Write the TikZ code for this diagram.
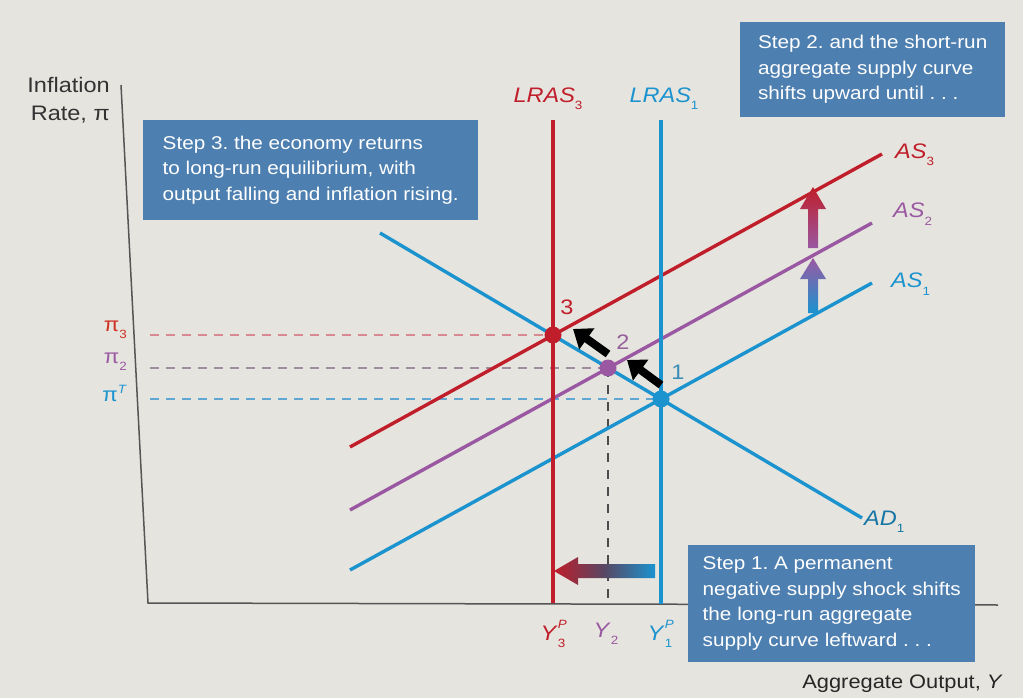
\documentclass[tikz,border=0pt]{standalone}
\usepackage{fontspec}
\setmainfont{Liberation Sans}[FakeStretch=1.12]
\usetikzlibrary{arrows.meta}
\definecolor{bgc}{HTML}{E6E4DE}
\definecolor{cblue}{HTML}{1B93CF}
\definecolor{cred}{HTML}{BF1E2A}
\definecolor{cpurple}{HTML}{9A58A2}
\definecolor{boxc}{HTML}{4D7FB0}
\definecolor{dred}{HTML}{D98A90}
\definecolor{dpur}{HTML}{A08C9E}
\definecolor{dblue}{HTML}{62A6D2}
\definecolor{axc}{HTML}{555555}
\newcommand{\fsz}[1]{\fontsize{#1}{#1}\selectfont}
\newcommand{\supsubY}[2]{\textit{Y}\rlap{\raisebox{0.55em}{\fsz{12}\textit{#1}}}\raisebox{-0.35em}{\fsz{12}#2}}
\newcommand{\itsub}[2]{\textit{#1}\raisebox{-0.35em}{\fsz{12}#2}}
\frenchspacing
\begin{document}
\begin{tikzpicture}[x=1pt,y=-1pt,
  curve/.style={line width=3.4pt},
  dashline/.style={line width=2.4pt, dash pattern=on 9pt off 7pt},
  dotpt/.style={circle, inner sep=0pt, minimum size=17pt},
  lbl/.style={font=\fsz{20}, inner sep=0pt},
  steptext/.style={fill=boxc, text=white, font=\fontsize{18.5}{25.5}\selectfont, align=left, anchor=north west, inner sep=0pt},
  blackarrow/.style={line width=8pt, -{Triangle[length=17pt,width=25pt]}}
]
\fill[bgc] (0,0) rectangle (1023,698);
\useasboundingbox (0,0) rectangle (1023,698);

% key coordinates
\coordinate (ytop) at (121,85);
\coordinate (orig) at (148,603);
\coordinate (xend) at (998,605);
\coordinate (l3top) at (553,120);
\coordinate (l3bot) at (553,603);
\coordinate (l1top) at (661,120);
\coordinate (l1bot) at (661,604);
\coordinate (y2bot) at (608,603);
\coordinate (adA) at (380,233);
\coordinate (adB) at (862,518);
\coordinate (as1A) at (350,570);
\coordinate (as1B) at (872,283);
\coordinate (as2A) at (350,510);
\coordinate (as2B) at (872,223);
\coordinate (as3A) at (350,447);
\coordinate (as3B) at (882,154);
\coordinate (d3) at (150,335);
\coordinate (d2) at (150,368);
\coordinate (d1) at (150,399);

% axes
\draw[axc, line width=1.5pt] (ytop) -- (orig) -- (xend);

% dashed guides
\draw[dashline, dred] (d3) -- (553,335);
\draw[dashline, dpur] (d2) -- (608,368);
\draw[dashline, dblue] (d1) -- (661,399);
\draw[line width=1.4pt, dash pattern=on 9pt off 8pt, black!70] (608,368) -- (y2bot);

% curves
\draw[curve, cblue] (as1A) -- (as1B);
\draw[curve, cpurple] (as2A) -- (as2B);
\draw[curve, cred] (as3A) -- (as3B);
\draw[curve, cblue] (adA) -- (adB);
\draw[curve, cred] (l3top) -- (l3bot);
\draw[curve, cblue] (l1top) -- (l1bot);

% equilibrium points
\node[dotpt, fill=cred] (p3) at (553,335) {};
\node[dotpt, fill=cpurple] (p2) at (608,368) {};
\node[dotpt, fill=cblue] (p1) at (661,399) {};
\node[lbl, text=cred, font=\fsz{21}] (n3) at (567,307) {3};
\node[lbl, text=cpurple!80!gray, font=\fsz{21}] (n2) at (623,342) {2};
\node[lbl, text=cblue!70!gray, font=\fsz{21}] (n1) at (678,372) {1};

% black arrows
\coordinate (baT) at (661,385);
\coordinate (baH) at (627,360);
\coordinate (bbT) at (608,354);
\coordinate (bbH) at (573,329);
\draw[blackarrow] (baT) -- (baH);
\draw[blackarrow] (bbT) -- (bbH);

% vertical shaded arrows
\shade[bottom color=cpurple, top color=cred] (808,248) -- (808,209) -- (800,209) -- (813,187) -- (826,209) -- (818,209) -- (818,248) -- cycle;
\shade[bottom color=cblue, top color=cpurple] (808,313) -- (808,279) -- (800,279) -- (813,258) -- (826,279) -- (818,279) -- (818,313) -- cycle;
% horizontal shaded arrow
\shade[left color=cred, right color=cblue, middle color=cred!50!cblue!80!black] (655,564) -- (578,564) -- (578,557) -- (554,571) -- (578,585) -- (578,578) -- (655,578) -- cycle;

% curve labels
\node[lbl, text=cred, anchor=south, font=\fsz{21}] (lr3) at (548,110) {\itsub{LRAS}{3}};
\node[lbl, text=cblue, anchor=south, font=\fsz{21}] (lr1) at (664,110) {\itsub{LRAS}{1}};
\node[lbl, text=cred, anchor=west, font=\fsz{21}] (las3) at (895,155) {\itsub{AS}{3}};
\node[lbl, text=cpurple, anchor=west, font=\fsz{21}] (las2) at (893,214) {\itsub{AS}{2}};
\node[lbl, text=cblue, anchor=west, font=\fsz{21}] (las1) at (891,284) {\itsub{AS}{1}};
\node[lbl, text=cblue!80!black, anchor=west, font=\fsz{21}] (lad) at (864,522) {\itsub{AD}{1}};

% axis labels
\node[lbl, text=black!80, anchor=north east, align=right, font=\fontsize{21}{28}\selectfont] (ylab) at (110,77) {Inflation\\Rate, π};
\node[lbl, text=black!85, anchor=east, font=\fsz{19.5}] (xlab) at (1003,684) {Aggregate Output, \textit{Y}};

\node[lbl, text=cred!80!orange, anchor=east, font=\fsz{20}] (pi3) at (127,330) {π\raisebox{-0.35em}{\fsz{12}3}};
\node[lbl, text=cpurple, anchor=east, font=\fsz{20}] (pi2) at (127,362) {π\raisebox{-0.35em}{\fsz{12}2}};
\node[lbl, text=cblue, anchor=east, font=\fsz{20}] (piT) at (127,393) {π\raisebox{0.4em}{\fsz{12}\textit{T}}};

\node[lbl, text=cred, font=\fsz{21}] (ly3) at (553,634) {\supsubY{P}{3}};
\node[lbl, text=cpurple, font=\fsz{21}] (ly2) at (606,634) {\itsub{Y}{2}};
\node[lbl, text=cblue, font=\fsz{21}] (ly1) at (660,634) {\supsubY{P}{1}};

% step boxes
\node[steptext, minimum width=335pt, minimum height=100pt] (s3) at (143,120)
  {Step 3. the economy returns\\to long-run equilibrium, with\\output falling and inflation rising.};
\node[steptext, minimum width=265pt, minimum height=95pt] (s2) at (740,22)
  {Step 2. and the short-run\\aggregate supply curve\\shifts upward until . . .};
\node[steptext, minimum width=287pt, minimum height=117pt] (s1) at (688,545)
  {Step 1. A permanent\\negative supply shock shifts\\the long-run aggregate\\supply curve leftward . . .};
\end{tikzpicture}
\end{document}
